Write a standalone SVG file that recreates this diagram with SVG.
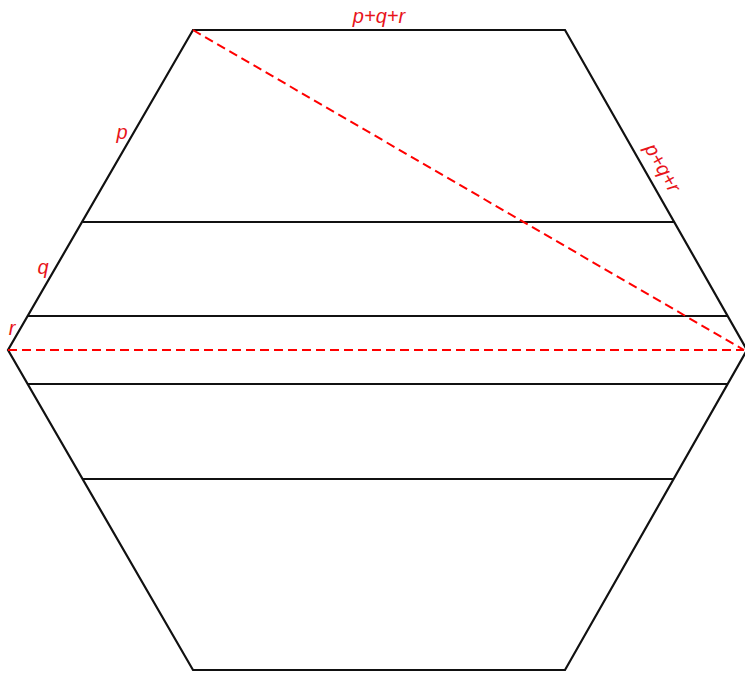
<svg xmlns="http://www.w3.org/2000/svg" width="745" height="673" viewBox="0 0 745 673">
<style>
.edge{fill:none;stroke:#111;stroke-width:2.2;stroke-linejoin:miter}
.band{stroke:#111;stroke-width:2.2}
.dash{stroke:#f00;stroke-width:2;stroke-dasharray:9,5;fill:none}
.lbl{fill:#e8141a;font-family:"Liberation Sans",Arial,sans-serif;font-style:italic;font-size:20px;text-anchor:middle}
</style>
<rect width="745" height="673" fill="#fff"/>
<g id="hexagon">
<polygon class="edge" points="193,30 565,30 747,350 565,670 193,670 8,350"/>
</g>
<g id="bands">
<line class="band" x1="82.6" y1="222" x2="674.5" y2="222"/>
<line class="band" x1="27.7" y1="316" x2="727.7" y2="316"/>
<line class="band" x1="27.7" y1="384" x2="727.7" y2="384"/>
<line class="band" x1="82.6" y1="479" x2="673.6" y2="479"/>
</g>
<g id="connectors">
<line class="dash" x1="193" y1="30" x2="744" y2="350"/>
<line class="dash" x1="8" y1="350" x2="744" y2="350"/>
</g>
<g id="labels">
<text class="lbl" x="379" y="23">p+q+r</text>
<text class="lbl" x="122" y="139">p</text>
<text class="lbl" x="43" y="274">q</text>
<text class="lbl" x="12" y="335">r</text>
<text class="lbl" x="657" y="171" transform="rotate(60.4 657 171)">p+q+r</text>
</g>
</svg>
